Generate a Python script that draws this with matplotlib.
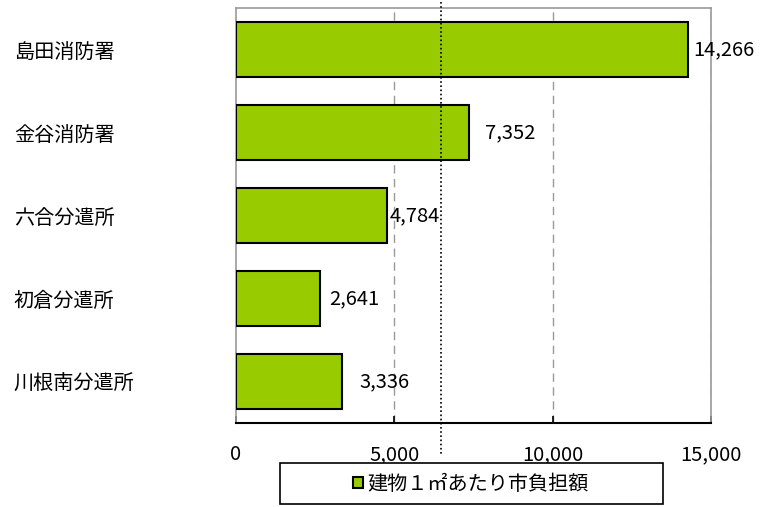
import numpy as np
import matplotlib.pyplot as plt
from matplotlib.patches import Rectangle
from matplotlib.transforms import blended_transform_factory, offset_copy

plt.rcParams['font.family'] = ['Noto Sans CJK JP', 'DejaVu Sans']

# データ
categories = ["島田消防署", "金谷消防署", "六合分遣所", "初倉分遣所", "川根南分遣所"]
values = [14266, 7352, 4784, 2641, 3336]
series_name = "建物１㎡あたり市負担額"
x_ticks = [0, 5000, 10000, 15000]
x_ticklabels = ["0", "5,000", "10,000", "15,000"]

# ラベルの横ずれ（ピクセル）
label_shift = [5, 16, 2, 10, 18]

bar_color = "#99CC00"
fs = 14.5
avg = np.mean(values)

fig = plt.figure(figsize=(7.61, 5.07), dpi=100)
ax = fig.add_axes([236 / 761, 84 / 507, 475 / 761, 415 / 507])

y = np.arange(len(categories))
ax.barh(y, values, height=0.66, color=bar_color, edgecolor="black", linewidth=1.5, zorder=3)

ax.set_xlim(0, 15000)
ax.set_ylim(len(categories) - 0.5, -0.5)

# 目盛り線
for xv in x_ticks[1:]:
    ax.axvline(xv, color="#999999", linestyle=(0, (6, 4)), linewidth=1, zorder=1)

# 平均線
trans = blended_transform_factory(ax.transData, ax.transAxes)
ax.plot([avg, avg], [1.015, -0.08], transform=trans, color="black",
        linestyle=(0, (1, 1.5)), linewidth=1.2, clip_on=False, zorder=4)

# 値ラベル
for i, v in enumerate(values):
    t = offset_copy(ax.transData, fig=fig, x=label_shift[i] * 0.72, y=0, units="points")
    ax.text(v, i, f"{v:,}", transform=t, ha="left", va="center", fontsize=fs)

ax.set_xticks(x_ticks)
ax.set_xticklabels(x_ticklabels, fontsize=fs)
ax.tick_params(axis="x", direction="in", length=5, width=1.2, pad=15, color="black")

ax.set_yticks(y)
ax.set_yticklabels(categories, fontsize=fs)
ax.tick_params(axis="y", length=0, pad=160)
for lab in ax.get_yticklabels():
    lab.set_horizontalalignment("left")

for s in ["top", "left", "right"]:
    ax.spines[s].set_color("#999999")
    ax.spines[s].set_linewidth(1.2)
ax.spines["bottom"].set_color("black")
ax.spines["bottom"].set_linewidth(1.5)

# 凡例
fig.patches.append(Rectangle((280 / 761, 3 / 507), 383 / 761, 41 / 507,
                             transform=fig.transFigure, facecolor="white",
                             edgecolor="black", linewidth=1.2))
handle = Rectangle((0, 0), 1, 1, facecolor=bar_color, edgecolor="black", linewidth=1.5)
fig.legend([handle], [series_name], loc="center", bbox_to_anchor=(471 / 761, 23 / 507),
           frameon=False, fontsize=fs, handlelength=0.5, handleheight=0.5, handletextpad=0.2)

fig.savefig("out.png", dpi=100)
